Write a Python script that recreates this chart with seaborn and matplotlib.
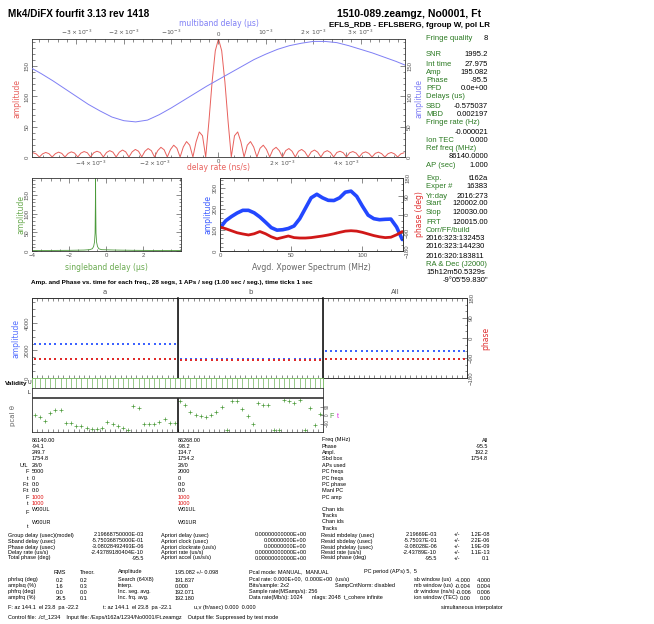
import numpy as np
import matplotlib
matplotlib.use("Agg")
import matplotlib.pyplot as plt
from matplotlib.ticker import MultipleLocator, FixedLocator
import seaborn as sns

sns.set_style("ticks")
plt.rcParams['font.family'] = ['Liberation Sans', 'DejaVu Sans']
plt.rcParams['mathtext.fontset'] = 'dejavusans'
plt.rcParams['axes.linewidth'] = 0.6

# ---------------- data ----------------
# delay-rate function (amplitude vs delay rate, ns/s), one side of a symmetric curve
rate_amp_half = [195.1, 175.6, 124.1, 58.5, 0,
                 35.1, 41.4, 25.1, 0,
                 19.5, 25.5, 16.5, 0,
                 14.5, 19.5, 12.5, 0,
                 12.0, 16.0, 10.5, 0,
                 10.5, 14.0, 9.5, 0,
                 9.5, 12.5, 8.5, 0,
                 8.5, 11.5, 8.0, 0,
                 8.0, 10.5, 7.5, 0,
                 7.5, 9.5, 7.0, 0,
                 7.0, 9.0, 6.5, 0,
                 6.5, 8.5, 6.0, 0,
                 6.0, 8.0, 5.5, 0,
                 5.5, 7.5, 5.2, 0,
                 5.2, 7.0]
rate_amp = np.concatenate([rate_amp_half[:0:-1], rate_amp_half])
rate_val = np.linspace(-5.8e-3, 5.8e-3, len(rate_amp))

# multiband delay function (amplitude vs multiband delay, us)
mbd_amp = [149, 138, 126, 113, 100, 87, 76, 66, 60, 58, 61, 70, 81, 93, 105, 117,
           128, 139, 150, 161, 170, 178, 184, 188, 191, 191, 189, 184, 178, 172,
           165, 158, 150]
mbd_val = np.linspace(-4.0e-3, 4.0e-3, len(mbd_amp))

# singleband delay function (us)
sbd_val = [-4.0, -3.0, -2.0, -1.2, -0.9, -0.75, -0.68, -0.63, -0.60, -0.585,
           -0.575, -0.565, -0.55, -0.52, -0.47, -0.40, -0.25, 0.5, 1.5, 2.5, 4.0]
sbd_amp = [1.5, 1.5, 1.8, 2.5, 3.5, 6, 12, 24, 48, 120,
           195, 120, 48, 24, 12, 6, 3.5, 2.5, 1.8, 1.5, 1.5]

# averaged cross-power spectrum
xp_freq = np.arange(0, 129, 4)
xp_amp = [110, 145, 165, 182, 195, 195, 183, 163, 138, 112, 100, 102, 108, 120,
          155, 205, 255, 272, 255, 243, 242, 255, 282, 287, 262, 215, 172, 155,
          150, 152, 153, 115, 55]
xp_phase = [-62, -70, -80, -90, -96, -101, -95, -84, -95, -110, -120, -113, -106,
            -114, -116, -116, -114, -110, -106, -101, -95, -88, -82, -80, -82,
            -88, -96, -104, -110, -114, -112, -100, -84]

# amplitude and phase per segment for each frequency channel
channels = ['a', 'b', 'All']
seg_amp = {'a': [2497] * 28, 'b': [1347] * 28, 'All': [1922] * 28}
seg_phase = {'a': [-94.1] * 28, 'b': [-98.2] * 28, 'All': [-95.5] * 28}
valid_upper = [1] * 56

# phase-cal phases per segment
pcal_a = [-3.5, -25, -60, 21, 49, 56, -85, -85, -113, -113, -141, -148, -148, -138,
          -78, -95, -120, -138, -162, 92, 74, -95, -92, -92, -78, -39, -85, -85]
pcal_b = [145, 109, 28, 4, -14, -21, 4, 28, 85, -162, 145, 145, 64, -14, -92, 127,
          109, 102, -155, -155, 162, 145, 127, 162, -155, 74, -102, 14]

# ---------------- layout helpers ----------------
W, H = 654, 624
fig = plt.figure(figsize=(W / 100, H / 100), dpi=100)
fig.patch.set_facecolor('white')

RED = '#e8605c'
BLUE = '#7f7ff5'
GREEN_LINE = '#4b9a3a'
LBL_GREEN = '#2b7a22'
GRAY = '#555555'
SANS = ['Liberation Sans', 'DejaVu Sans']
PGF = ['DejaVu Sans']


def box(x0, y0, x1, y1):
    return fig.add_axes([x0 / W, 1 - y1 / H, (x1 - x0) / W, (y1 - y0) / H])


def T(x, y, s, size=5.5, color='black', ha='left', va='center', weight='normal',
      family=None, rotation=0):
    fig.text(x / W, 1 - y / H, s, fontsize=size, color=color, ha=ha, va=va,
             fontweight=weight, family=family or SANS, rotation=rotation)


def pg(ax, lsize=4.3):
    for s in ax.spines.values():
        s.set_linewidth(0.6)
        s.set_color('#333333')
    ax.tick_params(which='both', direction='in', color='#333333',
                   labelcolor=GRAY, labelsize=lsize, width=0.4, pad=1.5)
    ax.tick_params(which='major', length=3.5)
    ax.tick_params(which='minor', length=1.8)
    ax.set_xlabel('')
    ax.set_ylabel('')


def rot_y(ax, side='left'):
    for t in ax.get_yticklabels():
        t.set_rotation(90)
        t.set_va('center')
        t.set_ha('right' if side == 'left' else 'left')


# ---------------- titles ----------------
T(7.5, 14, 'Mk4/DiFX fourfit 3.13 rev 1418', size=7.2, weight='bold')
T(481, 14, '1510-089.zeamgz, No0001, Ft', size=7.6, weight='bold', ha='right')
T(490, 25.5, 'EFLS_RDB - EFLSBERG, fgroup W, pol LR', size=5.8, weight='bold', ha='right')

# ---------------- main fringe plot ----------------
ax = box(32, 39, 405, 157)
sns.lineplot(x=rate_val, y=rate_amp, ax=ax, color=RED, lw=0.7)
pg(ax)
ax.set_xlim(-5.83e-3, 5.83e-3)
ax.set_ylim(0, 195)
ax.xaxis.set_major_locator(FixedLocator([-4e-3, -2e-3, 0, 2e-3, 4e-3]))
ax.set_xticklabels([r'$-4\times10^{-3}$', r'$-2\times10^{-3}$', '0',
                    r'$2\times10^{-3}$', r'$4\times10^{-3}$'])
ax.xaxis.set_minor_locator(MultipleLocator(0.5e-3))
ax.set_yticks([0, 50, 100, 150])
ax.yaxis.set_minor_locator(MultipleLocator(10))
ax.tick_params(top=False, right=False, which='both')
rot_y(ax)

ov = box(32, 39, 405, 157)
ov.patch.set_visible(False)
sns.lineplot(x=mbd_val, y=mbd_amp, ax=ov, color=BLUE, lw=0.7)
pg(ov)
for s in ov.spines.values():
    s.set_visible(False)
ov.set_xlim(-3.94e-3, 3.94e-3)
ov.set_ylim(0, 195)
ov.xaxis.tick_top()
ov.yaxis.tick_right()
ov.xaxis.set_major_locator(FixedLocator([-3e-3, -2e-3, -1e-3, 0, 1e-3, 2e-3, 3e-3]))
ov.set_xticklabels([r'$-3\times10^{-3}$', r'$-2\times10^{-3}$', r'$-10^{-3}$', '0',
                    r'$10^{-3}$', r'$2\times10^{-3}$', r'$3\times10^{-3}$'])
ov.xaxis.set_minor_locator(MultipleLocator(0.2e-3))
ov.set_yticks([0, 50, 100, 150])
ov.yaxis.set_minor_locator(MultipleLocator(10))
ov.tick_params(bottom=False, left=False, labelbottom=False, labelleft=False,
               which='both')
rot_y(ov, 'right')

T(17, 98, 'amplitude', size=5.5, color=RED, ha='center', rotation=90, family=PGF)
T(419, 98, 'amplitude', size=5.5, color=BLUE, ha='center', rotation=90, family=PGF)
T(218.5, 168, 'delay rate (ns/s)', size=5.5, color=RED, ha='center', family=PGF)
T(218.5, 23, 'multiband delay (\u03bcs)', size=5.5, color=BLUE, ha='center', family=PGF)

# ---------------- singleband delay ----------------
asb = box(32, 178, 181, 251)
sns.lineplot(x=sbd_val, y=sbd_amp, ax=asb, color=GREEN_LINE, lw=0.6)
pg(asb)
asb.set_xlim(-4, 4.03)
asb.set_ylim(0, 195)
asb.set_xticks([-4, -2, 0, 2])
asb.xaxis.set_minor_locator(MultipleLocator(0.5))
asb.set_yticks([0, 50, 100, 150])
asb.yaxis.set_minor_locator(MultipleLocator(10))
asb.tick_params(top=True, right=True, which='both')
rot_y(asb)
T(21, 214, 'amplitude', size=5.5, color='#6aaa50', ha='center', rotation=90, family=PGF)
T(106, 267, 'singleband delay (\u03bcs)', size=5.5, color='#6aaa50', ha='center', family=PGF)

# ---------------- cross-power spectrum ----------------
axp = box(220, 178, 403, 251)
sns.lineplot(x=xp_freq, y=xp_amp, ax=axp, color='#2347ff', lw=2.6)
pg(axp)
axp.set_xlim(0, 128.5)
axp.set_ylim(0, 350)
axp.set_xticks([0, 50, 100])
axp.xaxis.set_minor_locator(MultipleLocator(10))
axp.set_yticks([0, 100, 200, 300])
axp.yaxis.set_minor_locator(MultipleLocator(20))
axp.tick_params(top=True, right=False, which='both')
rot_y(axp)
aph = axp.twinx()
sns.lineplot(x=xp_freq, y=xp_phase, ax=aph, color='#d01818', lw=2.0)
pg(aph)
aph.set_ylim(-180, 180)
aph.set_yticks([-180, -90, 0, 90, 180])
aph.yaxis.set_minor_locator(MultipleLocator(30))
rot_y(aph, 'right')
T(208, 214, 'amplitude', size=5.5, color='#3b5bff', ha='center', rotation=90, family=PGF)
T(420, 214, 'phase (deg)', size=5.5, color='#e03030', ha='center', rotation=90, family=PGF)
T(311, 267, 'Avgd. Xpower Spectrum (MHz)', size=5.6, color='#666666', ha='center', family=PGF)

# ---------------- right-hand summary ----------------
LX, VX = 426, 488
summary = [
    (38, 'Fringe quality', '8'),
    (55, 'SNR', '1995.2'), (64, 'Int time', '27.975'), (72, 'Amp', '195.082'),
    (81, 'Phase', '-95.5'), (89, 'PFD', '0.0e+00'), (97, 'Delays (us)', ''),
    (106, 'SBD', '-0.575037'), (114, 'MBD', '0.002197'),
    (123, 'Fringe rate (Hz)', ''), (132, '', '-0.000021'),
    (140, 'Ion TEC', '0.000'), (149, 'Ref freq (MHz)', ''), (157, '', '86140.0000'),
    (166, 'AP (sec)', '1.000'),
    (179, 'Exp.', 't162a'), (187, 'Exper #', '16383'), (196, 'Yr:day', '2016:273'),
    (204, 'Start', '120002.00'), (213, 'Stop', '120030.00'), (222, 'FRT', '120015.00'),
    (231, 'Corr/FF/build', ''), (265, 'RA & Dec (J2000)', ''),
]
for y, lab, val in summary:
    if lab:
        T(LX, y, lab, size=5.5, color=LBL_GREEN)
    if val:
        T(VX, y, val, size=5.5, ha='right')
for y, s in [(239, '2016:323:132453'), (247, '2016:323:144230'),
             (256, '2016:320:183811'), (273, '15h12m50.5329s')]:
    T(LX, y, s, size=5.5)
T(VX, 281, '-9\u00b005\'59.830"', size=5.5, ha='right')

# ---------------- amplitude / phase vs time ----------------
T(31, 283, 'Amp. and Phase vs. time for each freq., 28 segs, 1 APs / seg (1.00 sec / seg.), time ticks 1 sec',
  size=4.6, weight='bold')
edges = {'a': (32, 178), 'b': (178, 323), 'All': (323, 467)}
seg = np.arange(28) + 0.5
for ch in channels:
    x0, x1 = edges[ch]
    T((x0 + x1) / 2, 291.5, ch, size=5.0, color=GRAY, ha='center', family=PGF)
    am = box(x0, 298, x1, 378)
    sns.scatterplot(x=seg, y=seg_amp[ch], ax=am, color='#3d63ff', s=2.2,
                    marker='s', linewidth=0)
    pg(am)
    am.set_xlim(0, 28)
    am.set_ylim(0, 5800)
    am.xaxis.set_major_locator(MultipleLocator(1))
    am.tick_params(axis='x', which='major', length=2, top=True, labelbottom=False)
    ph = am.twinx()
    sns.scatterplot(x=seg, y=seg_phase[ch], ax=ph, color='#e02a2a', s=2.2,
                    marker='s', linewidth=0)
    pg(ph)
    ph.set_ylim(-180, 180)
    if ch == 'a':
        am.set_yticks([0, 2000, 4000])
        am.yaxis.set_minor_locator(MultipleLocator(500))
        rot_y(am)
    else:
        am.tick_params(axis='y', which='both', left=False, labelleft=False)
    if ch == 'All':
        ph.set_yticks([-180, -90, 0, 90, 180])
        ph.yaxis.set_minor_locator(MultipleLocator(30))
        rot_y(ph, 'right')
    else:
        ph.tick_params(axis='y', which='both', right=False, labelright=False)
    if ch != 'a':
        am.spines['left'].set_linewidth(1.1)
        am.spines['left'].set_color('black')
T(16, 338, 'amplitude', size=5.5, color='#5570ff', ha='center', rotation=90, family=PGF)
T(486, 338, 'phase', size=5.5, color='#e03030', ha='center', rotation=90, family=PGF)

# validity strips
av = box(32, 378, 323, 388)
av.set_xlim(0, 56)
av.set_ylim(0, 1)
vx = np.arange(56)[np.array(valid_upper) > 0] + 0.5
av.vlines(vx, 0, 1, color='#6fb35a', lw=0.5)
for s in av.spines.values():
    s.set_color('#6fb35a')
    s.set_linewidth(0.6)
av.set_xticks([])
av.set_yticks([])
al = box(32, 388, 323, 397)
al.set_xticks([])
al.set_yticks([])
for s in al.spines.values():
    s.set_color('#333333')
    s.set_linewidth(0.6)
T(27, 384, 'Validity', size=4.6, weight='bold', ha='right')
T(29.5, 383, 'U', size=3.6, ha='center')
T(29.5, 393, 'L', size=3.6, ha='center')

# phase-cal panel
apc = box(32, 398, 323, 432)
pc_x = np.concatenate([seg, seg + 28])
pc_y = np.concatenate([pcal_a, pcal_b])
sns.scatterplot(x=pc_x, y=pc_y, ax=apc, color='#4b9a3a', s=5, marker='+', linewidth=0.5)
pg(apc, lsize=3.4)
apc.set_xlim(0, 56)
apc.set_ylim(-180, 180)
apc.xaxis.set_major_locator(MultipleLocator(1))
apc.tick_params(axis='x', which='major', length=2, top=False, labelbottom=False)
apc.yaxis.tick_right()
apc.set_yticks([-90, 0, 90])
apc.tick_params(axis='y', which='major', length=2.5)
rot_y(apc, 'right')
apc.axvline(28, color='black', lw=1.1)
T(13, 415, 'pcal \u03b8', size=5.0, color='#666666', ha='center', rotation=90, family=PGF)
T(332, 416, 'F', size=5.0, color='#4b9a3a', ha='center')
T(338, 416, 't', size=5.0, color='#e020e0', ha='center')

# ---------------- per-channel table ----------------
rows_y = [440, 446.5, 452.7, 459, 465.5, 471.8, 478.2, 484.4, 490.7, 497.2, 503.6]
col_a = ['86140.00', '-94.1', '249.7', '1754.8', '28/0', '5000', '0', '0:0', '0:0', '1000', '1000']
col_b = ['86268.00', '-98.2', '134.7', '1754.2', '28/0', '2000', '0', '0:0', '0:0', '1000', '1000']
row_names = ['Freq (MHz)', 'Phase', 'Ampl.', 'Sbd box', 'APs used', 'PC freqs',
             'PC freqs', 'PC phase', 'Manl PC', 'PC amp']
row_tags = ['', '', '', '', 'U/L', 'F', 't', 'F:t', 'F:t', 'F', 't']
col_all = ['All', '-95.5', '192.2', '1754.8']
FS = 4.0
for i, y in enumerate(rows_y):
    c = '#e01010' if i >= 9 else 'black'
    T(32, y, col_a[i], size=FS, color=c)
    T(178, y, col_b[i], size=FS, color=c)
    if row_tags[i]:
        T(28.5, y, row_tags[i], size=FS, ha='right')
    if i < len(row_names):
        T(322, y, row_names[i], size=FS)
    if i < len(col_all):
        T(488, y, col_all[i], size=FS, ha='right')
T(32, 509.5, 'W00UL', size=FS)
T(178, 509.5, 'W01UL', size=FS)
T(32, 523, 'W00UR', size=FS)
T(178, 523, 'W01UR', size=FS)
T(28.5, 513, 'F', size=FS, ha='right')
T(28.5, 526, 't', size=FS, ha='right')
for y, s in [(509.5, 'Chan ids'), (515.5, 'Tracks'), (521.5, 'Chan ids'), (528, 'Tracks')]:
    T(322, y, s, size=FS)

# ---------------- fit summary block ----------------
fit_rows = [535, 541, 547, 552.5, 558]
fit_lab1 = ['Group delay (usec)(model)', 'Sband delay (usec)', 'Phase delay (usec)',
            'Delay rate (us/s)', 'Total phase (deg)']
fit_val1 = ['2.19668750000E-03', '-5.75036875000E-01', '-3.08028492493E-06',
            '-2.43789180404E-10', '-95.5']
fit_lab2 = ['Apriori delay (usec)', 'Apriori clock (usec)', 'Apriori clockrate (us/s)',
            'Apriori rate (us/s)', 'Apriori accel (us/s/s)']
fit_val2 = ['0.00000000000E+00', '0.00000000E+00', '0.00000000E+00',
            '0.00000000000E+00', '0.00000000000E+00']
fit_lab3 = ['Resid mbdelay (usec)', 'Resid sbdelay (usec)', 'Resid phdelay (usec)',
            'Resid rate (us/s)', 'Resid phase (deg)']
fit_val3 = ['2.19669E-03', '-5.75037E-01', '-3.08028E-06', '-2.43789E-10', '-95.5']
fit_err3 = ['1.2E-08', '2.2E-06', '1.9E-09', '1.1E-13', '0.1']
for i, y in enumerate(fit_rows):
    T(7.5, y, fit_lab1[i], size=FS)
    T(144, y, fit_val1[i], size=FS, ha='right')
    T(161, y, fit_lab2[i], size=FS)
    T(307, y, fit_val2[i], size=FS, ha='right')
    T(321, y, fit_lab3[i], size=FS)
    T(437, y, fit_val3[i], size=FS, ha='right')
    T(454, y, '+/-', size=FS)
    T(490, y, fit_err3[i], size=FS, ha='right')

T(54, 572, 'RMS', size=FS)
T(79.5, 572, 'Theor.', size=FS)
T(118, 572, 'Amplitude', size=FS)
T(175, 572, '195.082 +/- 0.098', size=FS)
T(249, 572, 'Pcal mode: MANUAL,  MANUAL', size=FS)
T(364, 572, "PC period (AP's) 5,  5", size=FS)
st_rows = [580, 586, 592, 598]
st_lab = ['phrlsq (deg)', 'amplsq (%)', 'phfrq (deg)', 'ampfrq (%)']
st_rms = ['0.2', '1.6', '0.0', '26.5']
st_th = ['0.2', '0.3', '0.0', '0.1']
st_l2 = ['Search (64X8)', 'Interp.', 'Inc. seg. avg.', 'Inc. frq. avg.']
st_v2 = ['191.837', '0.000', '192.071', '192.180']
st_l3 = ['Pcal rate: 0.000E+00,  0.000E+00  (us/s)', 'Bits/sample: 2x2',
         'Sample rate(MSamp/s): 256', 'Data rate(Mb/s): 1024']
st_win = ['sb window (us)', 'mb window (us)', 'dr window (ns/s)', 'ion window (TEC)']
st_lo = ['-4.000', '-0.004', '-0.006', '0.00']
st_hi = ['4.000', '0.004', '0.006', '0.00']
for i, y in enumerate(st_rows):
    T(7.5, y, st_lab[i], size=FS)
    T(56, y, st_rms[i], size=FS)
    T(79.5, y, st_th[i], size=FS)
    T(118, y, st_l2[i], size=FS)
    T(175, y, st_v2[i], size=FS)
    T(249, y, st_l3[i], size=FS)
    T(414, y, st_win[i], size=FS)
    T(471, y, st_lo[i], size=FS, ha='right')
    T(491, y, st_hi[i], size=FS, ha='right')
T(335, 586, 'SampCntNorm: disabled', size=FS)
T(312, 598, 'nlags: 2048  t_cohere infinite', size=FS)

T(7.5, 607, 'F: az 144.1  el 23.8  pa -22.2', size=FS)
T(102.5, 607, 't: az 144.1  el 23.8  pa -22.1', size=FS)
T(194.5, 607, 'u,v (fr/asec) 0.000  0.000', size=FS)
T(441, 607, 'simultaneous interpolator', size=FS)
T(7.5, 617, 'Control file: ./cf_1234    Input file: /Exps/t162a/1234/No0001/Ft.zeamgz    '
  'Output file: Suppressed by test mode', size=FS)

fig.savefig('out.png', dpi=100, facecolor='white')
